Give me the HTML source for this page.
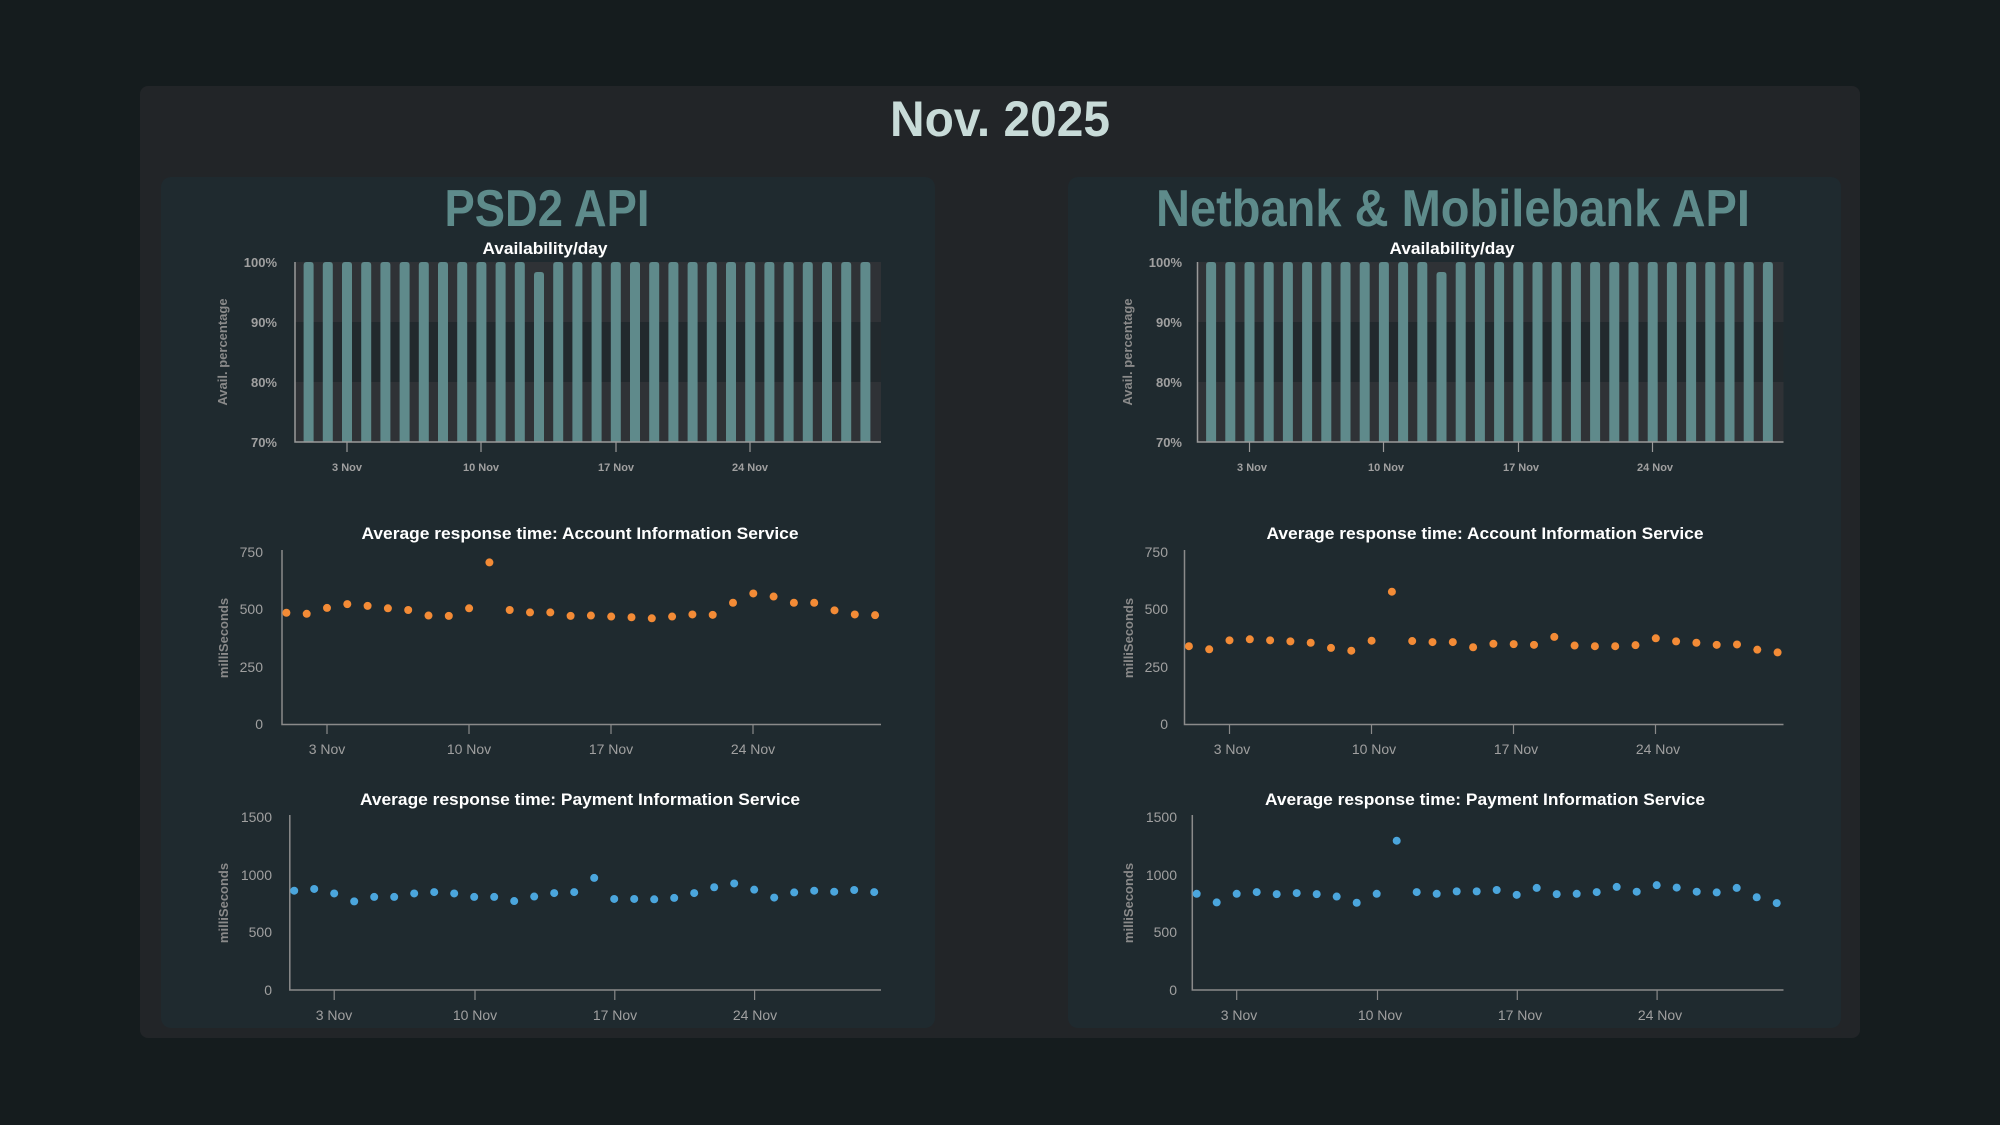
<!DOCTYPE html>
<html><head><meta charset="utf-8"><style>
html,body{margin:0;padding:0;background:#151c1e;}
svg{display:block}
text{font-family:"Liberation Sans",sans-serif;}
</style></head><body>
<svg id="s" width="2000" height="1125" viewBox="0 0 2000 1125" xmlns="http://www.w3.org/2000/svg">
<rect width="2000" height="1125" fill="#151c1e"/>
<rect x="140" y="86" width="1720" height="952" rx="8" fill="#222528"/>
<rect x="161" y="177" width="774" height="851" rx="10" fill="#1f2a2f"/>
<rect x="1068" y="177" width="773" height="851" rx="10" fill="#1f2a2f"/>
<text x="1000" y="136" text-anchor="middle" font-size="50" font-weight="bold" fill="#c8dbd8" textLength="220" lengthAdjust="spacingAndGlyphs">Nov. 2025</text>
<text x="547" y="226" text-anchor="middle" font-size="52" font-weight="bold" fill="#5e8b8b" textLength="205" lengthAdjust="spacingAndGlyphs">PSD2 API</text>
<text x="1453" y="226" text-anchor="middle" font-size="52" font-weight="bold" fill="#5e8b8b" textLength="594" lengthAdjust="spacingAndGlyphs">Netbank &amp; Mobilebank API</text>
<g id="L">
<text x="545" y="254" text-anchor="middle" font-size="17" font-weight="bold" fill="#ffffff" textLength="125" lengthAdjust="spacingAndGlyphs">Availability/day</text>
<g font-size="13" font-weight="bold" fill="#a0a0a0" text-anchor="end">
<text x="277" y="267">100%</text><text x="277" y="327">90%</text><text x="277" y="387">80%</text><text x="277" y="447">70%</text></g>
<text transform="translate(227,352) rotate(-90)" text-anchor="middle" font-size="13" font-weight="bold" fill="#8a8a8a">Avail. percentage</text>
<g font-size="11" font-weight="bold" fill="#a0a0a0" text-anchor="middle">
<text x="347" y="471">3 Nov</text><text x="481" y="471">10 Nov</text><text x="616" y="471">17 Nov</text><text x="750" y="471">24 Nov</text></g>
<text x="580" y="539" text-anchor="middle" font-size="17" font-weight="bold" fill="#ffffff" textLength="437" lengthAdjust="spacingAndGlyphs">Average response time: Account Information Service</text>
<g font-size="14" fill="#a0a0a0" text-anchor="end">
<text x="263" y="557">750</text><text x="263" y="614">500</text><text x="263" y="672">250</text><text x="263" y="729">0</text></g>
<text transform="translate(228,638) rotate(-90)" text-anchor="middle" font-size="13" font-weight="bold" fill="#8a8a8a">milliSeconds</text>
<g font-size="14" fill="#a0a0a0" text-anchor="middle">
<text x="327" y="754">3 Nov</text><text x="469" y="754">10 Nov</text><text x="611" y="754">17 Nov</text><text x="753" y="754">24 Nov</text></g>
<text x="580" y="805" text-anchor="middle" font-size="17" font-weight="bold" fill="#ffffff" textLength="440" lengthAdjust="spacingAndGlyphs">Average response time: Payment Information Service</text>
<g font-size="14" fill="#a0a0a0" text-anchor="end">
<text x="272" y="822">1500</text><text x="272" y="880">1000</text><text x="272" y="937">500</text><text x="272" y="995">0</text></g>
<text transform="translate(228,903) rotate(-90)" text-anchor="middle" font-size="13" font-weight="bold" fill="#8a8a8a">milliSeconds</text>
<g font-size="14" fill="#a0a0a0" text-anchor="middle">
<text x="334" y="1020">3 Nov</text><text x="475" y="1020">10 Nov</text><text x="615" y="1020">17 Nov</text><text x="755" y="1020">24 Nov</text></g>
</g>
<g transform="translate(907,0)">
<text x="545" y="254" text-anchor="middle" font-size="17" font-weight="bold" fill="#ffffff" textLength="125" lengthAdjust="spacingAndGlyphs">Availability/day</text>
<g font-size="13" font-weight="bold" fill="#a0a0a0" text-anchor="end">
<text x="275" y="267">100%</text><text x="275" y="327">90%</text><text x="275" y="387">80%</text><text x="275" y="447">70%</text></g>
<text transform="translate(225,352) rotate(-90)" text-anchor="middle" font-size="13" font-weight="bold" fill="#8a8a8a">Avail. percentage</text>
<g font-size="11" font-weight="bold" fill="#a0a0a0" text-anchor="middle">
<text x="345" y="471">3 Nov</text><text x="479" y="471">10 Nov</text><text x="614" y="471">17 Nov</text><text x="748" y="471">24 Nov</text></g>
<text x="578" y="539" text-anchor="middle" font-size="17" font-weight="bold" fill="#ffffff" textLength="437" lengthAdjust="spacingAndGlyphs">Average response time: Account Information Service</text>
<g font-size="14" fill="#a0a0a0" text-anchor="end">
<text x="261" y="557">750</text><text x="261" y="614">500</text><text x="261" y="672">250</text><text x="261" y="729">0</text></g>
<text transform="translate(226,638) rotate(-90)" text-anchor="middle" font-size="13" font-weight="bold" fill="#8a8a8a">milliSeconds</text>
<g font-size="14" fill="#a0a0a0" text-anchor="middle">
<text x="325" y="754">3 Nov</text><text x="467" y="754">10 Nov</text><text x="609" y="754">17 Nov</text><text x="751" y="754">24 Nov</text></g>
<text x="578" y="805" text-anchor="middle" font-size="17" font-weight="bold" fill="#ffffff" textLength="440" lengthAdjust="spacingAndGlyphs">Average response time: Payment Information Service</text>
<g font-size="14" fill="#a0a0a0" text-anchor="end">
<text x="270" y="822">1500</text><text x="270" y="880">1000</text><text x="270" y="937">500</text><text x="270" y="995">0</text></g>
<text transform="translate(226,903) rotate(-90)" text-anchor="middle" font-size="13" font-weight="bold" fill="#8a8a8a">milliSeconds</text>
<g font-size="14" fill="#a0a0a0" text-anchor="middle">
<text x="332" y="1020">3 Nov</text><text x="473" y="1020">10 Nov</text><text x="613" y="1020">17 Nov</text><text x="753" y="1020">24 Nov</text></g>
</g>
<g id="shapes"></g>
</svg>
<script>
(function(){
var NS="http://www.w3.org/2000/svg",g=document.getElementById("shapes");
function el(t,a){var e=document.createElementNS(NS,t);for(var k in a)e.setAttribute(k,a[k]);g.appendChild(e);return e;}
function panel(dx,acc,pay){
 // bands
 el("rect",{x:295+dx,y:262,width:586,height:60,fill:"#2f3236"});
 el("rect",{x:295+dx,y:322,width:586,height:60,fill:"#22292d"});
 el("rect",{x:295+dx,y:382,width:586,height:60,fill:"#2f3236"});
 for(var i=0;i<30;i++){var cx=308.6+i*19.2+dx,top=(i==12)?272:262;
  el("path",{d:"M"+(cx-5)+" 442V"+(top+3)+"Q"+(cx-5)+" "+top+" "+(cx-2)+" "+top+"H"+(cx+2)+"Q"+(cx+5)+" "+top+" "+(cx+5)+" "+(top+3)+"V442Z",fill:"#5f8a8b"});}
 el("path",{d:"M"+(295+dx)+" 262V442H"+(881+dx),stroke:"#9a9a9a","stroke-width":1.5,fill:"none"});
 [347,481,616,750].forEach(function(x){el("line",{x1:x+dx,x2:x+dx,y1:442,y2:452,stroke:"#9a9a9a","stroke-width":1.2});});
 el("path",{d:"M"+(282+dx)+" 550V724.5H"+(881+dx),stroke:"#8a8a8a","stroke-width":1.5,fill:"none"});
 [327,469,611,753].forEach(function(x){el("line",{x1:x+dx,x2:x+dx,y1:724.5,y2:734,stroke:"#8a8a8a","stroke-width":1.2});});
 acc.forEach(function(zy,i){el("circle",{cx:286.4+i*20.3+dx,cy:500+zy/2.9,r:4,fill:"#f38b36"});});
 el("path",{d:"M"+(289.8+dx)+" 815V990H"+(881+dx),stroke:"#8a8a8a","stroke-width":1.5,fill:"none"});
 [334.2,475,614.8,754.6].forEach(function(x){el("line",{x1:x+dx,x2:x+dx,y1:990,y2:1000,stroke:"#8a8a8a","stroke-width":1.2});});
 pay.forEach(function(zy,i){el("circle",{cx:294.2+i*20+dx,cy:500+zy/2.9,r:4,fill:"#4ba6dd"});});
}
panel(0,[327,330,313,302,307,314,319,335,336,314,181,319,326,326,336,335,338,340,343,338,332,333,298,271,280,298,298,320,332,334],
[1133,1128,1141,1164,1151,1151,1141,1137,1141,1151,1151,1163,1150,1140,1137,1096,1157,1157,1158,1154,1140,1123,1112,1130,1153,1138,1133,1136,1131,1137]);
panel(-2.5+905,[424,433,407,404,407,410,414,429,437,408,266,409,412,412,427,417,418,420,397,422,424,424,421,401,410,414,420,419,434,442],
[1142,1167,1142,1137,1143,1140,1143,1150,1168,1142,988,1137,1142,1135,1135,1131,1145,1125,1143,1142,1137,1122,1136,1117,1124,1136,1138,1125,1152,1169]);
})();
</script>
</body></html>
